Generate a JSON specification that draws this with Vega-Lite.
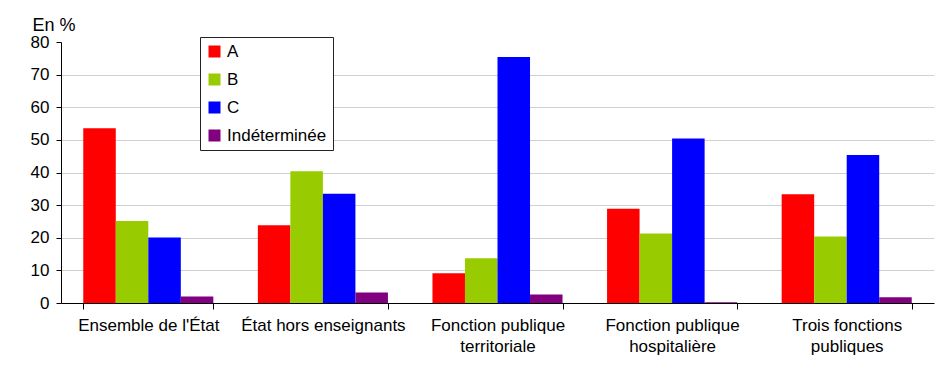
{
  "$schema": "https://vega.github.io/schema/vega-lite/v6.json",
  "width": 873,
  "height": 261,
  "autosize": {"type": "none"},
  "padding": {"left": 61, "top": 42, "right": 18, "bottom": 70},
  "background": "white",
  "config": {
    "font": "Liberation Sans",
    "view": {"stroke": null},
    "axis": {"labelFont": "Liberation Sans", "titleFont": "Liberation Sans", "labelColor": "black", "titleColor": "black"},
    "legend": {"labelFont": "Liberation Sans"}
  },
  "data": {
    "values": [
      {"cat": "Ensemble de l'État", "grade": "A", "value": 53.6},
      {"cat": "Ensemble de l'État", "grade": "B", "value": 25.1},
      {"cat": "Ensemble de l'État", "grade": "C", "value": 20.1},
      {"cat": "Ensemble de l'État", "grade": "Indéterminée", "value": 2.0},
      {"cat": "État hors enseignants", "grade": "A", "value": 23.8},
      {"cat": "État hors enseignants", "grade": "B", "value": 40.4},
      {"cat": "État hors enseignants", "grade": "C", "value": 33.5},
      {"cat": "État hors enseignants", "grade": "Indéterminée", "value": 3.2},
      {"cat": "Fonction publique territoriale", "grade": "A", "value": 9.1},
      {"cat": "Fonction publique territoriale", "grade": "B", "value": 13.7},
      {"cat": "Fonction publique territoriale", "grade": "C", "value": 75.4},
      {"cat": "Fonction publique territoriale", "grade": "Indéterminée", "value": 2.6},
      {"cat": "Fonction publique hospitalière", "grade": "A", "value": 28.9},
      {"cat": "Fonction publique hospitalière", "grade": "B", "value": 21.3},
      {"cat": "Fonction publique hospitalière", "grade": "C", "value": 50.4},
      {"cat": "Fonction publique hospitalière", "grade": "Indéterminée", "value": 0.2},
      {"cat": "Trois fonctions publiques", "grade": "A", "value": 33.3},
      {"cat": "Trois fonctions publiques", "grade": "B", "value": 20.4},
      {"cat": "Trois fonctions publiques", "grade": "C", "value": 45.4},
      {"cat": "Trois fonctions publiques", "grade": "Indéterminée", "value": 1.8}
    ]
  },
  "mark": {"type": "bar"},
  "encoding": {
    "x": {
      "field": "cat",
      "type": "nominal",
      "sort": null,
      "scale": {"paddingInner": 0.255, "paddingOuter": 0.1275},
      "axis": {
        "title": null,
        "labelAngle": 0,
        "tickBand": "extent",
        "tickSize": 6,
        "tickColor": "black",
        "domainColor": "black",
        "labelFontSize": 17,
        "labelLineHeight": 21,
        "labelPadding": 8,
        "labelLimit": 0,
        "labelExpr": "datum.label == 'Fonction publique territoriale' ? ['Fonction publique', 'territoriale'] : datum.label == 'Fonction publique hospitalière' ? ['Fonction publique', 'hospitalière'] : datum.label == 'Trois fonctions publiques' ? ['Trois fonctions', 'publiques'] : datum.label"
      }
    },
    "xOffset": {
      "field": "grade",
      "type": "nominal",
      "sort": ["A", "B", "C", "Indéterminée"],
      "scale": {"paddingInner": 0, "paddingOuter": 0}
    },
    "y": {
      "field": "value",
      "type": "quantitative",
      "scale": {"domain": [0, 80], "nice": false},
      "axis": {
        "values": [0, 10, 20, 30, 40, 50, 60, 70, 80],
        "title": "En %",
        "titleAngle": 0,
        "titleAlign": "left",
        "titleBaseline": "alphabetic",
        "titleX": -29,
        "titleY": -12,
        "titleFontSize": 18,
        "titleFontWeight": "normal",
        "labelFontSize": 17,
        "labelPadding": 7,
        "tickSize": 5,
        "tickColor": "black",
        "domainColor": "black",
        "gridColor": {"condition": {"test": "datum.value == 80 || datum.value == 0", "value": "transparent"}, "value": "#d0d0d0"}
      }
    },
    "color": {
      "field": "grade",
      "type": "nominal",
      "sort": ["A", "B", "C", "Indéterminée"],
      "scale": {"domain": ["A", "B", "C", "Indéterminée"], "range": ["#ff0000", "#99cc00", "#0000ff", "#800080"]},
      "legend": {
        "title": null,
        "orient": "none",
        "legendX": 139,
        "legendY": -5,
        "symbolType": "square",
        "symbolSize": 144,
        "symbolStrokeWidth": 0,
        "labelFontSize": 17,
        "labelOffset": 4,
        "rowPadding": 10,
        "padding": 6,
        "strokeColor": "#222222",
        "fillColor": "white"
      }
    }
  }
}
